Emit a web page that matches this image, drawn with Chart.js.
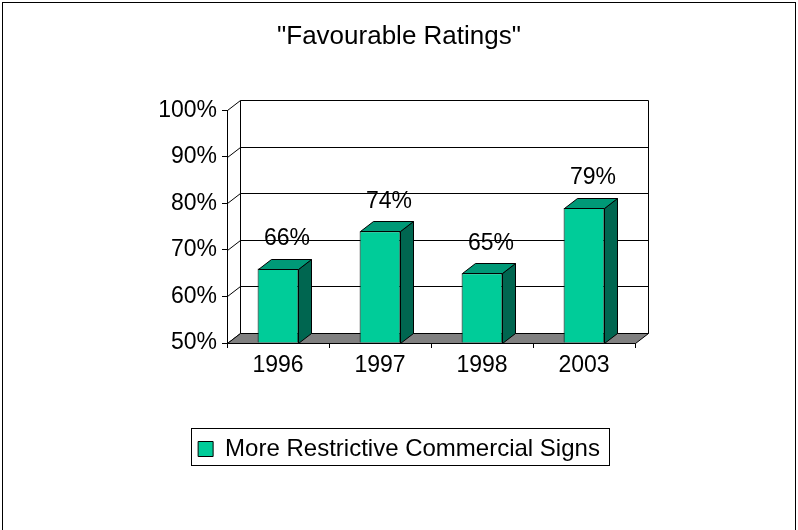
<!DOCTYPE html>
<html>
<head>
<meta charset="utf-8">
<script src="https://cdn.jsdelivr.net/npm/chart.js@4/dist/chart.umd.min.js"></script>
<style>
  html, body { margin: 0; padding: 0; background: #fff; }
  canvas { display: block; }
</style>
</head>
<body>
<canvas id="ratingsChart" width="798" height="530"></canvas>
<script>
// chart data
const years = ['1996', '1997', '1998', '2003'];
const ratings = [66, 74, 65, 79];
const seriesName = 'More Restrictive Commercial Signs';
const chartTitle = '"Favourable Ratings"';
const yMin = 50;
const yMax = 100;
const yStep = 10;

// 3D depth of the box and bars
const depthX = 13;
const depthY = -10;

const fontFamily = '"Liberation Sans", Arial, sans-serif';
Chart.defaults.font.family = fontFamily;
Chart.defaults.color = '#000';

// outer frame of the chart
const framePlugin = {
  id: 'frame',
  beforeDraw(chart) {
    const ctx = chart.ctx;
    ctx.save();
    ctx.fillStyle = '#fff';
    ctx.fillRect(0, 0, chart.width, chart.height);
    ctx.strokeStyle = '#000';
    ctx.lineWidth = 1;
    ctx.strokeRect(2.5, 2.5, chart.width - 5, chart.height + 20);
    ctx.restore();
  }
};

// back wall, gridlines and floor
const wallPlugin = {
  id: 'wall3d',
  beforeDatasetsDraw(chart) {
    const ctx = chart.ctx;
    const area = chart.chartArea;
    const y = chart.scales.y;
    const left = area.left + 0.5;
    const right = area.right + 0.5;
    const bottom = Math.round(area.bottom) + 0.5;

    ctx.save();
    ctx.strokeStyle = '#000';
    ctx.lineWidth = 1;

    // gridlines on the back wall and the slanted ticks
    y.ticks.forEach(t => {
      const py = Math.round(y.getPixelForValue(t.value)) + 0.5;
      ctx.beginPath();
      ctx.moveTo(left + depthX, py + depthY);
      ctx.lineTo(right + depthX, py + depthY);
      ctx.moveTo(left, py);
      ctx.lineTo(left + depthX, py + depthY);
      ctx.stroke();
    });

    // wall edges
    const topBack = Math.round(y.getPixelForValue(yMax)) + 0.5 + depthY;
    ctx.beginPath();
    ctx.moveTo(left + depthX, topBack);
    ctx.lineTo(left + depthX, bottom + depthY);
    ctx.moveTo(right + depthX, topBack);
    ctx.lineTo(right + depthX, bottom + depthY);
    ctx.stroke();

    // floor
    ctx.beginPath();
    ctx.moveTo(left, bottom);
    ctx.lineTo(left + depthX, bottom + depthY);
    ctx.lineTo(right + depthX, bottom + depthY);
    ctx.lineTo(right, bottom);
    ctx.closePath();
    ctx.fillStyle = '#808080';
    ctx.fill();
    ctx.stroke();
    ctx.restore();
  }
};

// side + top faces of the bars, and the value labels
const barsPlugin = {
  id: 'bars3d',
  afterDatasetsDraw(chart) {
    const ctx = chart.ctx;
    const area = chart.chartArea;
    const meta = chart.getDatasetMeta(0);

    ctx.save();
    ctx.strokeStyle = '#000';
    ctx.lineWidth = 1;
    meta.data.forEach((bar, i) => {
      const l = Math.round(bar.x - bar.width / 2) + 0.5;
      const r = Math.round(bar.x + bar.width / 2) + 0.5;
      const t = Math.round(bar.y) + 0.5;
      const b = Math.round(Math.min(bar.base, area.bottom)) + 0.5;

      // side
      ctx.beginPath();
      ctx.moveTo(r, t);
      ctx.lineTo(r + depthX, t + depthY);
      ctx.lineTo(r + depthX, b + depthY);
      ctx.lineTo(r, b);
      ctx.closePath();
      ctx.fillStyle = '#006650';
      ctx.fill();
      ctx.stroke();

      // top
      ctx.beginPath();
      ctx.moveTo(l, t);
      ctx.lineTo(l + depthX, t + depthY);
      ctx.lineTo(r + depthX, t + depthY);
      ctx.lineTo(r, t);
      ctx.closePath();
      ctx.fillStyle = '#009977';
      ctx.fill();
      ctx.stroke();

      // label
      ctx.fillStyle = '#000';
      ctx.font = '23px ' + fontFamily;
      ctx.textAlign = 'center';
      ctx.textBaseline = 'middle';
      ctx.fillText(ratings[i] + '%', bar.x + 9, bar.y - 30);
    });
    ctx.restore();
  },
  afterDraw(chart) {
    // border round the legend
    const hb = chart.legend.legendHitBoxes[0];
    if (!hb) return;
    const ctx = chart.ctx;
    ctx.save();
    ctx.strokeStyle = '#000';
    ctx.lineWidth = 1;
    ctx.strokeRect(Math.round(hb.left - 7) + 0.5, Math.round(hb.top - 9) + 0.5,
      Math.round(hb.width + 16), 37);
    ctx.restore();
  }
};

new Chart(document.getElementById('ratingsChart'), {
  type: 'bar',
  data: {
    labels: years,
    datasets: [{
      label: seriesName,
      data: ratings,
      base: yMin,
      backgroundColor: '#00CC99',
      borderColor: '#000',
      borderWidth: 1,
      barPercentage: 0.4,
      categoryPercentage: 1
    }]
  },
  options: {
    responsive: false,
    animation: false,
    layout: { padding: { left: 0, right: 0, top: 0, bottom: 59 } },
    plugins: {
      title: {
        display: true,
        text: chartTitle,
        color: '#000',
        font: { size: 26, weight: 'normal' },
        padding: { top: 21, bottom: 58 }
      },
      legend: {
        position: 'bottom',
        labels: {
          boxWidth: 15,
          boxHeight: 15,
          padding: 10,
          color: '#000',
          font: { size: 24 }
        }
      },
      tooltip: { enabled: false }
    },
    scales: {
      x: {
        grid: {
          display: true,
          drawOnChartArea: false,
          drawTicks: true,
          tickLength: 5,
          color: '#000',
          offset: true
        },
        border: { display: true, color: '#000' },
        ticks: { font: { size: 23 }, padding: 4, color: '#000' },
        afterFit(scale) { scale.height = 84; }
      },
      y: {
        min: yMin,
        max: yMax,
        grid: {
          display: true,
          drawOnChartArea: false,
          drawTicks: true,
          tickLength: 5,
          color: '#000'
        },
        border: { display: true, color: '#000' },
        ticks: {
          stepSize: yStep,
          padding: 5,
          color: '#000',
          font: { size: 23 },
          callback: v => v + '%'
        },
        afterFit(scale) { scale.width = 227; }
      },
      // empty axis that only keeps room on the right side
      spacer: {
        position: 'right',
        grid: { display: false },
        border: { display: false },
        ticks: { display: false },
        afterFit(scale) { scale.width = 163; }
      }
    }
  },
  plugins: [framePlugin, wallPlugin, barsPlugin]
});
</script>
</body>
</html>
